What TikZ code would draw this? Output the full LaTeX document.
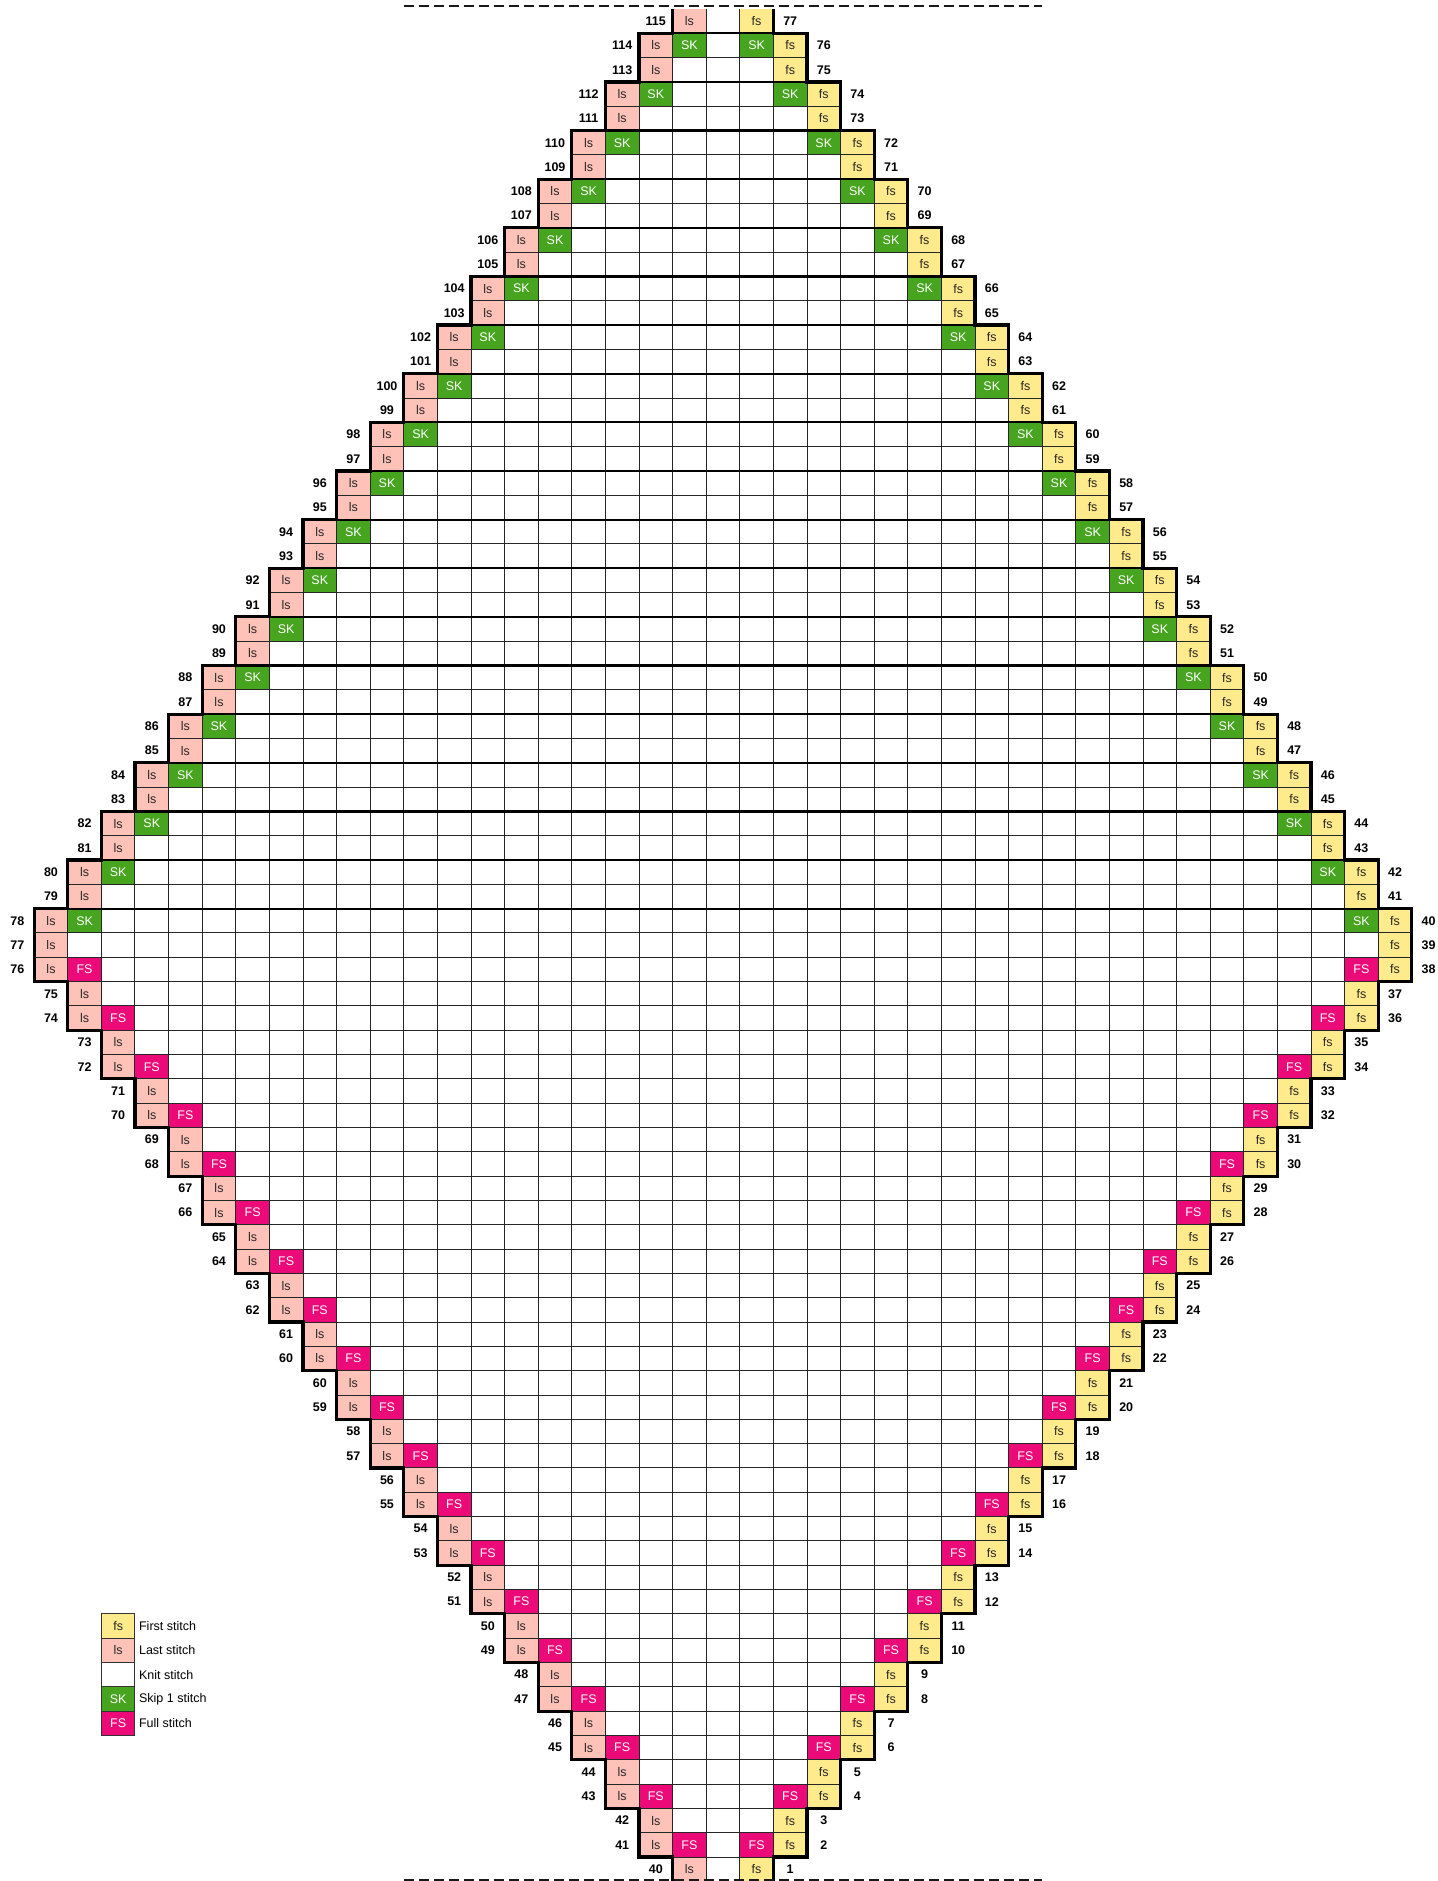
\documentclass[tikz,border=0pt]{standalone}
\usepackage{fontspec}
\setmainfont{Liberation Sans}
\usepackage{xcolor}
\definecolor{fsyellow}{HTML}{FFEA8C}
\definecolor{lspink}{HTML}{FFC2B9}
\definecolor{skgreen}{HTML}{47A41F}
\definecolor{fullpink}{HTML}{EB0A78}
\tikzset{
  kncell/.style={minimum width=33.6pt, minimum height=24.316pt, inner sep=0pt, font=\fontsize{12.5}{14}\selectfont},
  knfs/.style={kncell, fill=fsyellow, text=black!85},
  knls/.style={kncell, fill=lspink, text=black!85},
  knsk/.style={kncell, fill=skgreen, text=white},
  knfull/.style={kncell, fill=fullpink, text=white},
  knplain/.style={kncell, fill=white},
  knkey/.style={draw=black!80, line width=1pt},
  kngrid/.style={line width=1pt, draw=black!85},
  knband/.style={line width=2.2pt, draw=black, line cap=butt},
  knoutline/.style={line width=3.2pt, draw=black, line join=miter},
  kncut/.style={line width=2.6pt, draw=black!90, dash pattern=on 10.5pt off 4.5pt},
  knnum/.style={inner sep=0pt, font=\fontsize{12.5}{14}\selectfont\bfseries},
  knkeytext/.style={anchor=west, inner sep=0pt, xshift=3.4pt, font=\fontsize{12.5}{14}\selectfont},
}

\begin{document}
\begin{tikzpicture}[x=33.6pt, y=24.316pt,
  declare function={hw(\n)=(\n<40)?floor(\n/2)+1:20-floor((\n-39)/2);}]
\useasboundingbox (-21.018,0.0136) rectangle (21.75,77.37);

% stitches, row by row (row 1 at the bottom)
\foreach \n in {1,...,77}{
  \pgfmathtruncatemacro\h{hw(\n)}
  \pgfmathtruncatemacro\lab{\n<22 ? 39+\n : 38+\n}
  \node[knls] (ls\n) at (-\h+0.5,\n-0.5) {ls};
  \node[knfs] (fs\n) at (\h+0.5,\n-0.5) {fs};
  \ifodd\n\else
    \ifnum\n<39
      \node[knfull] (fulll\n) at (-\h+1.5,\n-0.5) {FS};
      \node[knfull] (fullr\n) at (\h-0.5,\n-0.5) {FS};
    \else
      \node[knsk] (skl\n) at (-\h+1.5,\n-0.5) {SK};
      \node[knsk] (skr\n) at (\h-0.5,\n-0.5) {SK};
    \fi
  \fi
  \node[knnum] (numl\n) at (-\h-0.5,\n-0.5) {\lab};
  \node[knnum] (numr\n) at (\h+1.5,\n-0.5) {\n};
}

% grid
\foreach \n in {1,...,77}{
  \pgfmathtruncatemacro\h{hw(\n)}
  \pgfmathtruncatemacro\hh{\h+1}
  \foreach \c in {-\h,...,\hh}
    \draw[kngrid] (\c,\n-1) -- (\c,\n);
}
\foreach \n in {1,...,76}{
  \pgfmathtruncatemacro\w{max(hw(\n),hw(\n+1))}
  \pgfmathtruncatemacro\ww{\w+1}
  \draw[kngrid] (-\w,\n) -- (\ww,\n);
}

% decrease bands in the upper half
\foreach \n in {40,42,...,76}{
  \pgfmathtruncatemacro\h{hw(\n)}
  \pgfmathtruncatemacro\hh{\h+1}
  \draw[knband] (-\h,\n) -- (\hh,\n);
}

% outline
\draw[knoutline] (-1,77) \foreach \n in {77,...,1}{ -- ({-hw(\n)},\n) -- ({-hw(\n)},\n-1) };
\draw[knoutline] (2,77) \foreach \n in {77,...,1}{ -- ({hw(\n)+1},\n) -- ({hw(\n)+1},\n-1) };

% cut lines
\draw[kncut] (-9,77.12) -- (10,77.12);
\draw[kncut] (-9,0.04) -- (10,0.04);

% key
\node[knfs, knkey] (keyfs) at (-17.5,10.5) {fs};
\node[knls, knkey] (keyls) at (-17.5,9.5) {ls};
\node[knplain, knkey] (keyknit) at (-17.5,8.5) {};
\node[knsk, knkey] (keysk) at (-17.5,7.5) {SK};
\node[knfull, knkey] (keyfull) at (-17.5,6.5) {FS};
\node[knkeytext] (txtfs) at (keyfs.east) {First stitch};
\node[knkeytext] (txtls) at (keyls.east) {Last stitch};
\node[knkeytext] (txtknit) at (keyknit.east) {Knit stitch};
\node[knkeytext] (txtsk) at (keysk.east) {Skip 1 stitch};
\node[knkeytext] (txtfull) at (keyfull.east) {Full stitch};
\end{tikzpicture}
\end{document}
